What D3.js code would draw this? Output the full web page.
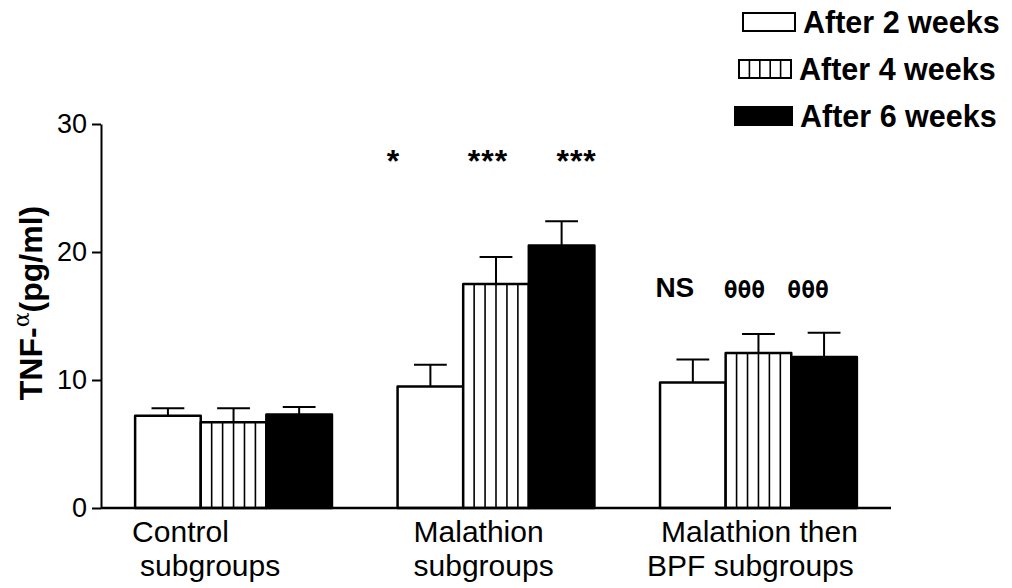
<!DOCTYPE html>
<html>
<head>
<meta charset="utf-8">
<script src="https://cdn.jsdelivr.net/npm/d3@7"></script>
<style>
  body { margin: 0; background: #fff; }
  svg { display: block; font-family: "Liberation Sans", Arial, sans-serif; }
</style>
</head>
<body>
<div id="chart"></div>
<script>
// TNF-alpha by subgroup and duration (mean + SEM)
const categories = ["Control subgroups", "Malathion subgroups", "Malathion then BPF subgroups"];
const catLines = [["Control", "subgroups"], ["Malathion", "subgroups"], ["Malathion then", "BPF subgroups"]];
const series = ["After 2 weeks", "After 4 weeks", "After 6 weeks"];
const week2 = [7.2, 9.5, 9.8];
const week4 = [6.7, 17.5, 12.1];
const week6 = [7.3, 20.5, 11.8];
const err2 = [0.6, 1.7, 1.8];
const err4 = [1.1, 2.1, 1.5];
const err6 = [0.6, 1.9, 1.9];
const yTicks = [0, 10, 20, 30];
// significance marks: [category, series, text]
const marks = [
  [1, 0, "*"], [1, 1, "***"], [1, 2, "***"],
  [2, 0, "NS"], [2, 1, "\u03b8\u03b8\u03b8"], [2, 2, "\u03b8\u03b8\u03b8"]
];

const means = [week2, week4, week6], errs = [err2, err4, err6];
const data = [];
categories.forEach((c, ci) => series.forEach((s, si) =>
  data.push({cat: c, ser: s, si, value: means[si][ci], err: errs[si][ci]})));

const W = 1012, H = 588;
const svg = d3.select("#chart").append("svg").attr("width", W).attr("height", H);

const y = d3.scaleLinear().domain([0, 30]).range([508, 124]);
const x0 = d3.scaleBand().domain(categories).range([101, 891]).paddingInner(0.25).paddingOuter(0.13);
const x1 = d3.scaleBand().domain(series).range([0, x0.bandwidth()]);

// bars
const bars = svg.append("g");
bars.selectAll("rect").data(data).join("rect")
  .attr("x", d => x0(d.cat) + x1(d.ser))
  .attr("y", d => y(d.value))
  .attr("width", x1.bandwidth())
  .attr("height", d => y(0) - y(d.value))
  .attr("fill", d => d.si === 2 ? "#000" : "#fff")
  .attr("stroke", "#000").attr("stroke-width", 2.5).attr("stroke-linejoin", "round");

// vertical stripes for 4-week bars
data.filter(d => d.si === 1).forEach(d => {
  const bx = x0(d.cat) + x1(d.ser), bw = x1.bandwidth();
  d3.range(1, 6).forEach(i => {
    bars.append("line")
      .attr("x1", bx + i * bw / 6).attr("x2", bx + i * bw / 6)
      .attr("y1", y(d.value)).attr("y2", y(0))
      .attr("stroke", "#000").attr("stroke-width", 1.6);
  });
});

// error bars (upper only)
const eb = svg.append("g").attr("stroke", "#000").attr("stroke-width", 2);
data.forEach(d => {
  const cx = x0(d.cat) + x1(d.ser) + x1.bandwidth() / 2;
  const cap = x1.bandwidth() * 0.25;
  eb.append("line").attr("x1", cx).attr("x2", cx).attr("y1", y(d.value)).attr("y2", y(d.value + d.err));
  eb.append("line").attr("x1", cx - cap).attr("x2", cx + cap).attr("y1", y(d.value + d.err)).attr("y2", y(d.value + d.err));
});

// axes
const yAxis = svg.append("g").attr("transform", "translate(101,0)")
  .call(d3.axisLeft(y).tickValues(yTicks).tickSize(9).tickPadding(5).tickSizeOuter(0));
yAxis.select(".domain").attr("stroke-width", 2);
yAxis.selectAll(".tick line").attr("stroke-width", 2);
yAxis.selectAll(".tick text").attr("font-size", 27).attr("font-family", "Liberation Sans, Arial, sans-serif").attr("fill", "#000");

svg.append("line").attr("x1", 101).attr("x2", 891).attr("y1", y(0)).attr("y2", y(0))
  .attr("stroke", "#000").attr("stroke-width", 2.5);

// category labels
const lineDx = [[-3, 5], [16, 16], [1, -13]];
categories.forEach((c, ci) => {
  catLines[ci].forEach((t, li) => {
    svg.append("text")
      .attr("x", x0(c) + lineDx[ci][li]).attr("y", 542 + li * 34)
      .attr("font-size", 30).attr("fill", "#000").text(t);
  });
});

// y label
const yl = svg.append("text")
  .attr("transform", "translate(42,303) rotate(-90)")
  .attr("text-anchor", "middle").attr("font-size", 32).attr("font-weight", "bold");
yl.append("tspan").text("TNF-");
yl.append("tspan").attr("dy", -13).attr("font-size", 22).attr("font-weight", "normal")
  .attr("font-family", "DejaVu Serif, serif").text("\u03b1");
yl.append("tspan").attr("dy", 13).text("(pg/ml)");

// significance marks
const markDx = [[-37, -8, 15], [-18, -14, -16]];
marks.forEach(([ci, si, t]) => {
  const cx = x0(categories[ci]) + x1(series[si]) + x1.bandwidth() / 2 + markDx[ci - 1][si];
  const txt = svg.append("text").attr("x", cx).attr("text-anchor", "middle").attr("fill", "#000").text(t);
  if (ci === 1) txt.attr("y", 172).attr("font-size", 32).attr("font-weight", "bold").attr("letter-spacing", 1);
  else if (t === "NS") txt.attr("y", 297).attr("font-size", 28).attr("font-weight", "bold");
  else txt.attr("y", 298).attr("font-size", 23).attr("font-weight", "bold").attr("font-family", "DejaVu Sans Mono, monospace");
});

// legend
const lg = svg.append("g");
series.forEach((s, i) => {
  const base = 33 + i * 47;
  const sx = 743 - 4 * i, sw = 52 + (i === 2 ? 5 : 0);
  lg.append("rect").attr("x", sx).attr("y", base - 20).attr("width", sw).attr("height", 18)
    .attr("fill", i === 2 ? "#000" : "#fff").attr("stroke", "#000").attr("stroke-width", 2);
  if (i === 1) d3.range(1, 5).forEach(k => lg.append("line")
    .attr("x1", sx + k * sw / 5).attr("x2", sx + k * sw / 5)
    .attr("y1", base - 20).attr("y2", base - 2).attr("stroke", "#000").attr("stroke-width", 1.6));
  lg.append("text").attr("x", sx + sw + 8).attr("y", base)
    .attr("font-size", 30.5).attr("font-weight", "bold").attr("fill", "#000").text(s);
});
</script>
</body>
</html>
